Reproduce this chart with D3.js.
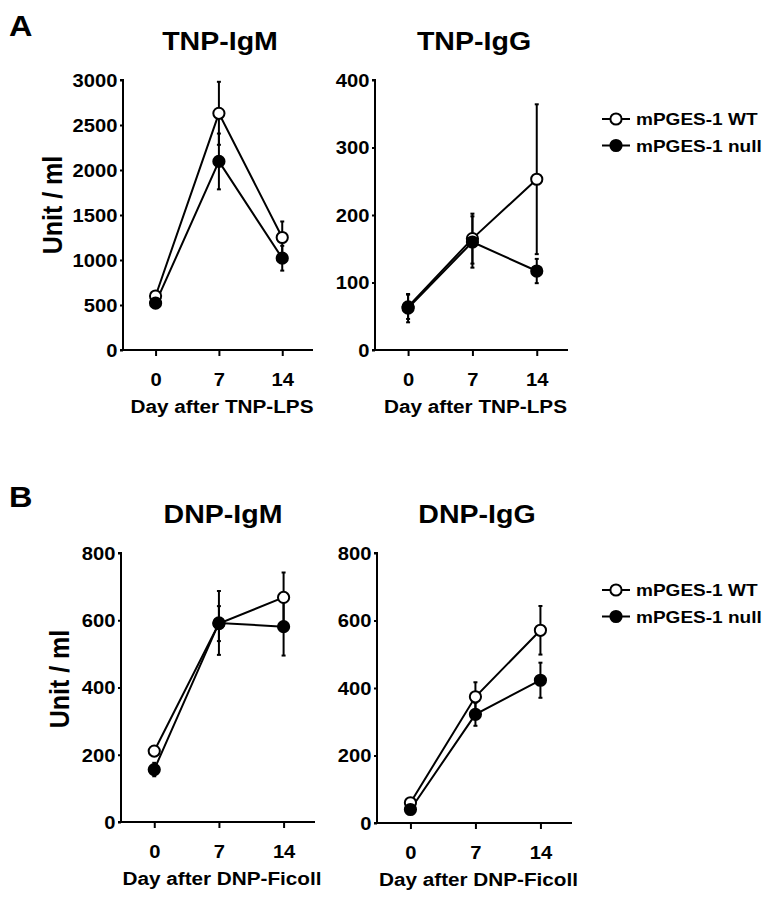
<!DOCTYPE html>
<html><head><meta charset="utf-8">
<script src="https://cdn.jsdelivr.net/npm/d3@7"></script>
<style>body{margin:0;background:#fff}svg{display:block}text{font-family:"Liberation Sans",Arial,sans-serif;font-weight:bold;fill:#000}</style>
</head><body>
<svg id="c" width="768" height="903"></svg>
<script>
const days = [0, 7, 14];
const seriesNames = ["mPGES-1 WT", "mPGES-1 null"];
// TNP-IgM
const tnpIgmWT = [600, 2630, 1250];
const tnpIgmWTerr = [30, 350, 178];
const tnpIgmNull = [520, 2095, 1020];
const tnpIgmNullErr = [25, 310, 138];
// TNP-IgG
const tnpIggWT = [64, 165, 253];
const tnpIggWTerr = [18, 37, 111];
const tnpIggNull = [62, 160, 117];
const tnpIggNullErr = [21, 38, 18];
// DNP-IgM
const dnpIgmWT = [211, 590, 668];
const dnpIgmWTerr = [12, 52, 74];
const dnpIgmNull = [156, 592, 581];
const dnpIgmNullErr = [20, 95, 86];
// DNP-IgG
const dnpIggWT = [60, 374, 571];
const dnpIggWTerr = [5, 43, 72];
const dnpIggNull = [40, 322, 423];
const dnpIggNullErr = [5, 34, 52];
// ticks
const tnpIgmTicks = [0, 500, 1000, 1500, 2000, 2500, 3000];
const tnpIggTicks = [0, 100, 200, 300, 400];
const dnpTicks = [0, 200, 400, 600, 800];

const panels = [
  {title:"TNP-IgM", xlab:"Day after TNP-LPS", wt:tnpIgmWT, wte:tnpIgmWTerr, nu:tnpIgmNull, nue:tnpIgmNullErr, ticks:tnpIgmTicks, x0:123, x1:313, yT:80, yB:350, tx:220, ty:50, ylab:[62, 205]},
  {title:"TNP-IgG", xlab:"Day after TNP-LPS", wt:tnpIggWT, wte:tnpIggWTerr, nu:tnpIggNull, nue:tnpIggNullErr, ticks:tnpIggTicks, x0:375, x1:568, yT:80, yB:350, tx:474, ty:50, legend:119},
  {title:"DNP-IgM", xlab:"Day after DNP-Ficoll", wt:dnpIgmWT, wte:dnpIgmWTerr, nu:dnpIgmNull, nue:dnpIgmNullErr, ticks:dnpTicks, x0:121, x1:315, yT:553, yB:822, tx:223, ty:523, ylab:[69, 679]},
  {title:"DNP-IgG", xlab:"Day after DNP-Ficoll", wt:dnpIggWT, wte:dnpIggWTerr, nu:dnpIggNull, nue:dnpIggNullErr, ticks:dnpTicks, x0:377, x1:572, yT:553, yB:823, tx:477, ty:523, legend:590}
];

const S = 1.12; // horizontal stretch of lettering
const svg = d3.select("#c");
function txt(parent, x, y, size, s, anchor, rot) {
  return parent.append("text")
    .attr("transform", `translate(${x},${y}) scale(${S},1)` + (rot ? ` rotate(${rot})` : ""))
    .attr("font-size", size).attr("text-anchor", anchor || "start").text(s);
}
txt(svg, 9, 36, 29, "A");
txt(svg, 9, 507, 29, "B");

const R = 5.6;
panels.forEach(p => {
  const g = svg.append("g");
  const x = d3.scaleLinear().domain([-3.6, 17.4]).range([p.x0, p.x1]);
  const y = d3.scaleLinear().domain([0, d3.max(p.ticks)]).range([p.yB, p.yT]);
  const ya = g.append("g").attr("transform", `translate(${p.x0},0)`)
    .call(d3.axisLeft(y).tickValues(p.ticks).tickSize(3).tickPadding(2).tickFormat(d3.format("d")));
  const xa = g.append("g").attr("transform", `translate(0,${p.yB})`)
    .call(d3.axisBottom(x).tickValues(days).tickSize(6).tickPadding(30.5).tickFormat(d3.format("d")));
  [ya, xa].forEach(a => {
    a.select(".domain").attr("stroke", "#000").attr("stroke-width", 2);
    a.selectAll(".tick line").attr("stroke", "#000").attr("stroke-width", 2);
    a.selectAll("text").attr("font-size", 18).attr("font-family", "Liberation Sans, Arial, sans-serif")
      .attr("font-weight", "bold").attr("transform", `scale(${S},1)`);
  });
  ya.selectAll("text").attr("dy", "0.36em");
  xa.selectAll("text").attr("dy", "0");
  ya.select(".domain").attr("d", `M-3,${p.yT}H0V${p.yB}H-3`);
  xa.select(".domain").attr("d", `M${p.x0},0H${p.x1}`);
  txt(g, p.tx, p.ty, 25.5, p.title, "middle");
  txt(g, (p.x0 + p.x1) / 2 + 4, p.yB + 63, 18.5, p.xlab, "middle");
  if (p.ylab) txt(g, p.ylab[0], p.ylab[1], 25, "Unit / ml", "middle", -90);
  const line = d3.line().x((d, i) => x(days[i])).y(d => y(d));
  const series = [
    {v: p.wt, e: p.wte, fill: "#fff"},
    {v: p.nu, e: p.nue, fill: "#000"}
  ];
  series.forEach(s => {
    s.v.forEach((v, i) => {
      const cx = x(days[i]);
      g.append("line").attr("x1", cx).attr("x2", cx).attr("y1", y(v - s.e[i])).attr("y2", y(v + s.e[i])).attr("stroke", "#000").attr("stroke-width", 2);
      [v - s.e[i], v + s.e[i]].forEach(b => g.append("line").attr("x1", cx - 2).attr("x2", cx + 2).attr("y1", y(b)).attr("y2", y(b)).attr("stroke", "#000").attr("stroke-width", 2));
    });
  });
  series.forEach(s => {
    g.append("path").attr("d", line(s.v)).attr("fill", "none").attr("stroke", "#000").attr("stroke-width", 2);
  });
  series.forEach(s => {
    g.selectAll(null).data(s.v).enter().append("circle")
      .attr("cx", (d, i) => x(days[i])).attr("cy", d => y(d)).attr("r", R)
      .attr("fill", s.fill).attr("stroke", "#000").attr("stroke-width", 2);
  });
  if (p.legend) {
    seriesNames.forEach((n, i) => {
      const ly = p.legend + i * 26.5;
      g.append("line").attr("x1", 602).attr("x2", 630).attr("y1", ly).attr("y2", ly).attr("stroke", "#000").attr("stroke-width", 2);
      g.append("circle").attr("cx", 616).attr("cy", ly).attr("r", R).attr("fill", i === 0 ? "#fff" : "#000").attr("stroke", "#000").attr("stroke-width", 2);
      txt(g, 636, ly + 6, 17, n);
    });
  }
});
</script>
</body></html>
